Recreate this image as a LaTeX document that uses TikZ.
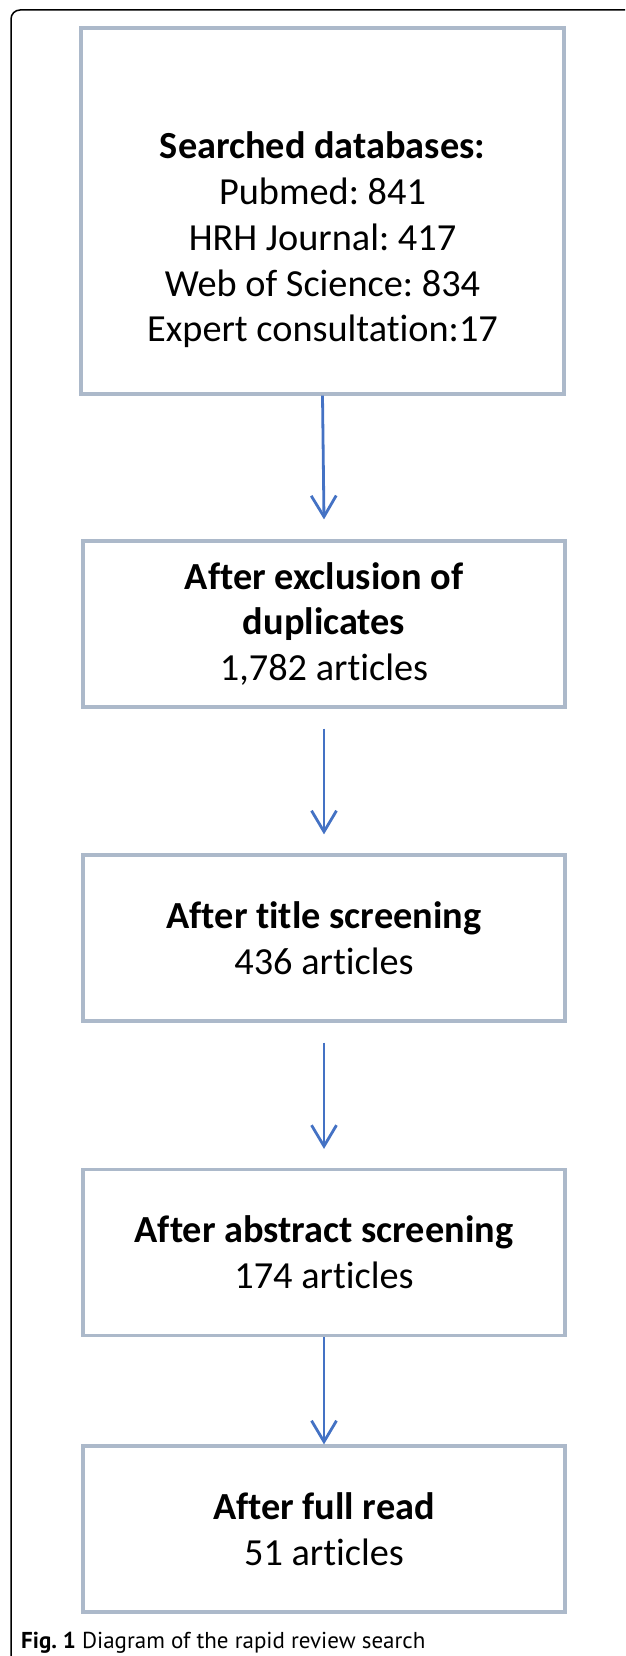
\documentclass[tikz,border=0pt]{standalone}
\usepackage{fontspec}
\setmainfont{Carlito}[Ligatures=NoCommon]
\newfontfamily\capfont{PT Sans}
\usetikzlibrary{arrows.meta,calc}
\definecolor{boxc}{RGB}{172,185,202}
\definecolor{arrc}{RGB}{68,114,196}
\frenchspacing
\begin{document}
\frenchspacing
\begin{tikzpicture}[x=1pt,y=-1pt,
  boxtxt/.style={align=center, inner sep=0pt, font=\fontsize{38.3}{45.8}\selectfont},
  box/.style={boxtxt, draw=boxc, line width=3.2pt, minimum width=482pt, minimum height=166pt},
  arr/.style={draw=arrc, line width=2.8pt, -{Straight Barb[length=21pt,width=25pt]}}]
\useasboundingbox (0,0) rectangle (625,1656);
\begin{scope}
\clip (0,0) rectangle (625,1656);
\draw[line width=1.5pt, rounded corners=9pt] (640,10) -- (11,10) -- (11,1664) -- (40,1664);
\end{scope}
\node[box, minimum width=483pt, minimum height=366pt] (b1) at (322.5,211) {};
\node[boxtxt] (t1) at (322.5,240) {\textbf{Searched databases:}\\Pubmed: 841\\HRH Journal: 417\\Web of Science: 834\\Expert consultation:17};
\node[box] (b2) at (324,624) {\textbf{After exclusion of}\\\textbf{duplicates}\\1,782 articles};
\node[box] (b3) at (324,938) {\textbf{After title screening}\\436 articles};
\node[box] (b4) at (324,1252.5) {\textbf{After abstract screening}\\174 articles};
\node[box] (b5) at (324,1529) {\textbf{After full read}\\51 articles};
\draw[arr] (b1.south) -- ($(b2.north)+(0,-20)$);
\draw[arr] ($(b2.south)+(0,20)$) -- ($(b3.north)+(0,-19)$);
\draw[arr] ($(b3.south)+(0,20)$) -- ($(b4.north)+(0,-19)$);
\draw[arr] (b4.south) -- (b5.north);
\node[anchor=base west, inner sep=0pt, font=\capfont\fontsize{23}{26}\selectfont] (cap) at (21,1648) {\textbf{Fig. 1} Diagram of the rapid review search};
\end{tikzpicture}
\end{document}
